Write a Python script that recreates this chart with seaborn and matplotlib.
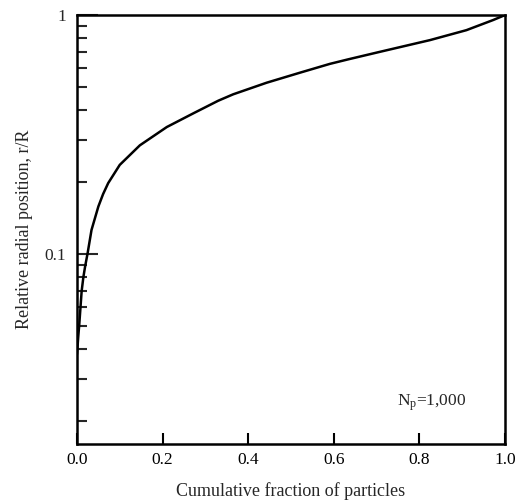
import numpy as np
import pandas as pd
import matplotlib
matplotlib.use("Agg")
import matplotlib.pyplot as plt
import matplotlib.ticker as mticker
import seaborn as sns

# values
cum_fraction = [0.0, 0.003, 0.0055, 0.011, 0.015, 0.019, 0.025, 0.034, 0.050, 0.061,
                0.073, 0.100, 0.147, 0.210, 0.272, 0.330, 0.365, 0.443, 0.521, 0.591,
                0.634, 0.708, 0.825, 0.910, 0.972, 1.0]
radial_pos = [0.038, 0.045, 0.051, 0.070, 0.080, 0.0885, 0.101, 0.126, 0.158, 0.178,
              0.198, 0.236, 0.285, 0.340, 0.388, 0.438, 0.466, 0.521, 0.574, 0.625,
              0.653, 0.702, 0.786, 0.865, 0.953, 1.0]
x_ticks = [0.0, 0.2, 0.4, 0.6, 0.8, 1.0]
y_ticks = [0.1, 1]
y_ticklabels = ["0.1", "1"]

df = pd.DataFrame({"frac": cum_fraction, "r": radial_pos})

sns.set_theme(style="ticks")
plt.rcParams['font.family'] = ['Liberation Serif', 'DejaVu Serif']
plt.rcParams['mathtext.fontset'] = 'custom'
plt.rcParams['mathtext.rm'] = 'Liberation Serif'

fig = plt.figure(figsize=(5.2, 5.04), dpi=100)
ax = fig.add_axes([0.148, 0.119, 0.823, 0.851])

sns.lineplot(data=df, x="frac", y="r", sort=False, color="black", linewidth=1.8, ax=ax)

ax.set_yscale("log")
ax.set_xlim(0, 1.0)
ax.set_ylim(0.016, 1.0)

ax.set_xticks(x_ticks)
ax.xaxis.set_major_formatter(mticker.FormatStrFormatter('%.1f'))
ax.set_yticks(y_ticks)
ax.set_yticklabels(y_ticklabels)
ax.yaxis.set_minor_locator(mticker.LogLocator(base=10, subs=np.arange(2, 10)))
ax.yaxis.set_minor_formatter(mticker.NullFormatter())

ax.tick_params(axis='x', direction='in', length=8, width=1.5, labelsize=12.5, pad=6,
               top=False, colors='black')
ax.tick_params(axis='y', which='major', direction='in', length=15, width=1.5,
               labelsize=12.5, pad=8, right=False)
ax.tick_params(axis='y', which='minor', direction='in', length=7, width=1.5, right=False)

for s in ax.spines.values():
    s.set_linewidth(1.8)
    s.set_color('black')

ax.set_xlabel("Cumulative fraction of particles", fontsize=13, labelpad=10)
ax.set_ylabel("Relative radial position, r/R", fontsize=13, labelpad=8)

ax.text(0.748, 0.0238, r'$\mathrm{N_p}$=1,000', fontsize=12.5, va='center', ha='left')

fig.savefig("out.png", dpi=100)
